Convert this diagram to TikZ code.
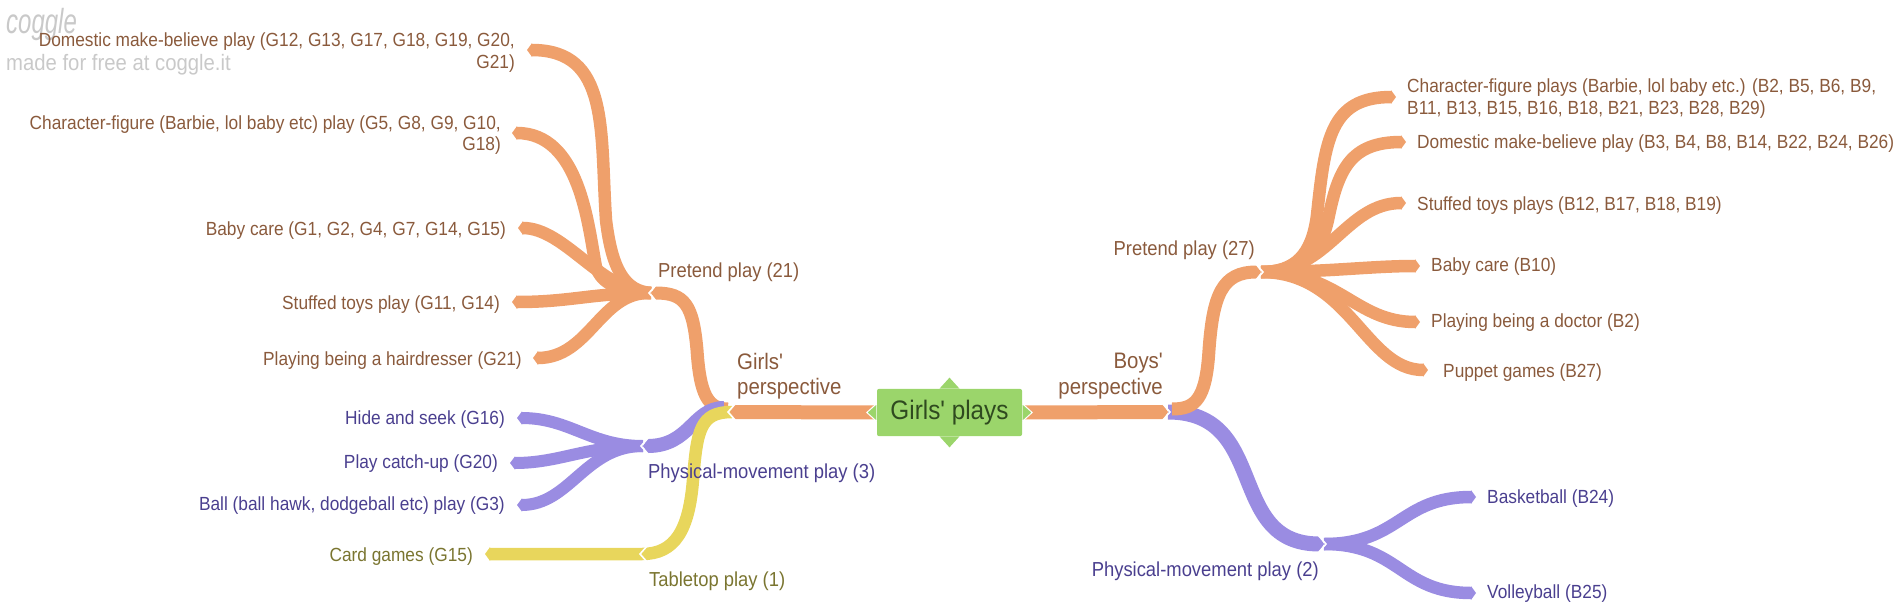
\documentclass[tikz,border=0pt]{standalone}
\usepackage{fontspec}
\setmainfont{Liberation Sans}
\usetikzlibrary{arrows.meta}
\pgfdeclarelayer{links}
\pgfsetlayers{links,main}
\definecolor{orangeL}{HTML}{EFA06B}
\definecolor{purpleL}{HTML}{9A8CE2}
\definecolor{yellowL}{HTML}{E8D65C}
\definecolor{brownT}{HTML}{8A5A3C}
\definecolor{purpleT}{HTML}{4A3F8F}
\definecolor{yellowT}{HTML}{7A7530}
\definecolor{rootF}{HTML}{9BD56B}
\definecolor{rootT}{HTML}{2F4A1F}
\definecolor{wm}{HTML}{C9C9C9}
\tikzset{
  x=1pt,y=-1pt,
  lab/.style={inner sep=0pt,yscale=1.1,transform shape,font=\fontsize{17.3}{19.5}\selectfont},
  big/.style={font=\fontsize{18.4}{21}\selectfont},
  huge/.style={font=\fontsize{20.4}{23}\selectfont},
  tb/.style={lab,text=brownT},
  tp/.style={lab,text=purpleT},
  ty/.style={lab,text=yellowT},
  link/.style={line width=#1,line cap=butt,-{Triangle[length=5pt,width=#1+1pt]}},
  lo/.style={draw=orangeL,color=orangeL,link=#1},
  lp/.style={draw=purpleL,color=purpleL,link=#1},
  ly/.style={draw=yellowL,color=yellowL,link=#1},
  chevron/.style={draw=white,line width=1.6pt,line join=miter},
  rootpt/.style={fill=rootF,draw=white,line width=1pt,line join=miter},
}
\newcommand{\chevL}[1]{\draw[chevron] ([shift={(6,-9)}]#1) -- ([shift={(-2,0)}]#1) -- ([shift={(6,9)}]#1);}
\newcommand{\chevR}[1]{\draw[chevron] ([shift={(-6,-9)}]#1) -- ([shift={(2,0)}]#1) -- ([shift={(-6,9)}]#1);}
\begin{document}
\begin{tikzpicture}
\useasboundingbox (0,0) rectangle (1901,611);

% watermark
\node[text=wm,inner sep=0pt,font=\fontsize{24}{24}\itshape\selectfont,yscale=1.45,transform shape,anchor=base west] (logo) at (6,33) {coggle};
\node[text=wm,inner sep=0pt,yscale=1.1,transform shape,font=\fontsize{20.3}{22}\selectfont,anchor=west] (made) at (6,65) {made for free at coggle.it};

% junctions
\coordinate (jL) at (651,293);
\coordinate (jC) at (730,412);
\coordinate (jR) at (1168,412);
\coordinate (jP) at (643,446);
\coordinate (jQ) at (1261,272);
\coordinate (jS) at (1324,544);
\coordinate (jY) at (642,554);

% root
\node[fill=rootF,rounded corners=2pt,minimum width=145pt,minimum height=43pt,inner sep=0pt,text=rootT,yscale=1.1,transform shape,font=\fontsize{24.3}{28}\selectfont] (root) at (949.5,412.5) {Girls\textquotesingle\ plays};

% left texts
\node[tb,anchor=east,align=right] (d1) at (515,52.5) {Domestic make-believe play (G12, G13, G17, G18, G19, G20,\\G21)};
\node[tb,anchor=east,align=right] (d2) at (501,135) {Character-figure (Barbie, lol baby etc) play (G5, G8, G9, G10,\\G18)};
\node[tb,anchor=east] (d3) at (506,231) {Baby care (G1, G2, G4, G7, G14, G15)};
\node[tb,anchor=east] (d4) at (500,305) {Stuffed toys play (G11, G14)};
\node[tb,anchor=east] (d5) at (522,361) {Playing being a hairdresser (G21)};
\node[tb,big,anchor=west] (pl) at (658,272) {Pretend play (21)};
\node[tb,huge,anchor=west,align=left] (gp) at (737,376) {Girls\textquotesingle\\perspective};
\node[tp,anchor=east] (h1) at (505,420) {Hide and seek (G16)};
\node[tp,anchor=east] (h2) at (498,464) {Play catch-up (G20)};
\node[tp,anchor=east] (h3) at (505,506) {Ball (ball hawk, dodgeball etc) play (G3)};
\node[tp,big,anchor=west] (ppl) at (648,473) {Physical-movement play (3)};
\node[ty,anchor=east] (cg) at (473,557) {Card games (G15)};
\node[ty,big,anchor=west] (tt) at (649,581) {Tabletop play (1)};

% right texts
\node[tb,huge,anchor=east,align=right] (bp) at (1163,376) {Boys\textquotesingle\\perspective};
\node[tb,big,anchor=east] (pr) at (1255,250) {Pretend play (27)};
\node[tb,anchor=west,align=left] (r1) at (1407,98.5) {Character-figure plays (Barbie, lol baby etc.) (B2, B5, B6, B9,\\B11, B13, B15, B16, B18, B21, B23, B28, B29)};
\node[tb,anchor=west] (r2) at (1417,144) {Domestic make-believe play (B3, B4, B8, B14, B22, B24, B26)};
\node[tb,anchor=west] (r3) at (1417,206) {Stuffed toys plays (B12, B17, B18, B19)};
\node[tb,anchor=west] (r4) at (1431,267) {Baby care (B10)};
\node[tb,anchor=west] (r5) at (1431,323) {Playing being a doctor (B2)};
\node[tb,anchor=west] (r6) at (1443,373) {Puppet games (B27)};
\node[tp,big,anchor=east] (prp) at (1319,571) {Physical-movement play (2)};
\node[tp,anchor=west] (b1) at (1487,499) {Basketball (B24)};
\node[tp,anchor=west] (b2) at (1487,594) {Volleyball (B25)};

\begin{pgfonlayer}{links}
% left orange leaves
\draw[lo=12.5pt] (jL) .. controls (625,291) and (612,270) .. (606,220) .. controls (600,130) and (610,50) .. ([shift={(12,-2.5)}]d1.east);
\draw[lo=12.5pt] (jL) .. controls (620,291) and (602,285) .. (596,267) .. controls (588,225) and (580,133) .. ([shift={(11,-2)}]d2.east);
\draw[lo=12.5pt] (jL) .. controls (600,291) and (565,228) .. ([shift={(12,-3)}]d3.east);
\draw[lo=12.5pt] (jL) .. controls (591,293) and (572,302) .. ([shift={(12,-3)}]d4.east);
\draw[lo=12.5pt] (jL) .. controls (600,291) and (590,358) .. ([shift={(11,-3)}]d5.east);
% left purple leaves
\draw[lp=12pt] (jP) .. controls (590,446) and (570,418) .. ([shift={(12,-2)}]h1.east);
\draw[lp=12pt] (jP) .. controls (585,446) and (560,463) .. ([shift={(12,-1)}]h2.east);
\draw[lp=12pt] (jP) .. controls (585,446) and (570,505) .. ([shift={(12,-1)}]h3.east);
% right leaves
\draw[lo=12.5pt] (jQ) .. controls (1295,272) and (1312,255) .. (1317,215) .. controls (1325,140) and (1330,97) .. ([shift={(-11,-1.5)}]r1.west);
\draw[lo=12.5pt] (jQ) .. controls (1290,272) and (1318,265) .. (1328,220) .. controls (1338,170) and (1350,142) .. ([shift={(-11,-2)}]r2.west);
\draw[lo=12.5pt] (jQ) .. controls (1330,272) and (1345,203) .. ([shift={(-11,-3)}]r3.west);
\draw[lo=12.5pt] (jQ) .. controls (1330,272) and (1370,266) .. ([shift={(-11,-1)}]r4.west);
\draw[lo=12.5pt] (jQ) .. controls (1340,272) and (1355,322) .. ([shift={(-11,-1)}]r5.west);
\draw[lo=12.5pt] (jQ) .. controls (1350,272) and (1365,370) .. ([shift={(-15,-3)}]r6.west);
\draw[lp=12.5pt] (jS) .. controls +(76,0) and +(-76,0) .. ([shift={(-11,-2)}]b1.west);
\draw[lp=12.5pt] (jS) .. controls +(76,0) and +(-76,0) .. ([shift={(-11,-1)}]b2.west);
% second level
\draw[lo=13pt] ([shift={(-2,-3)}]jC) .. controls (708,409) and (700,395) .. (697,350) .. controls (693,305) and (685,293) .. (jL);
\draw[lp=14pt] ([shift={(-6,-4)}]jC) .. controls +(-31,0) and +(47,0) .. (jP);
\draw[ly=12.5pt] ([xshift=2]jC) .. controls (700,412) and (697,430) .. (693,480) .. controls (689,530) and (675,554) .. (jY) -- ([shift={(12,-3)}]cg.east);
\draw[lp=15pt] (jR) .. controls +(102,0) and +(-99,0) .. (jS);
\draw[lo=13pt] ([shift={(4,-3)}]jR) .. controls (1195,409) and (1206,400) .. (1209,350) .. controls (1213,295) and (1222,272) .. (jQ);
% first level
\draw[lo=14pt] (root.west) -- (jC);
\draw[lo=14pt] (root.east) -- (jR);
\chevL{jC}
\chevR{jR}
\chevL{jL}
\chevL{jP}
\chevL{jY}
\chevR{jQ}
\chevR{jS}
% points of the root shape
\filldraw[rootpt] ([yshift=-9]root.west) -- ([xshift=-10]root.west) -- ([yshift=9]root.west) -- cycle;
\filldraw[rootpt] ([yshift=-9]root.east) -- ([xshift=10]root.east) -- ([yshift=9]root.east) -- cycle;
\filldraw[fill=rootF,draw=none] ([xshift=-10]root.north) -- ([yshift=11]root.north) -- ([xshift=10]root.north) -- cycle;
\filldraw[fill=rootF,draw=none] ([xshift=-10]root.south) -- ([yshift=-11]root.south) -- ([xshift=10]root.south) -- cycle;
\end{pgfonlayer}
\end{tikzpicture}
\end{document}
